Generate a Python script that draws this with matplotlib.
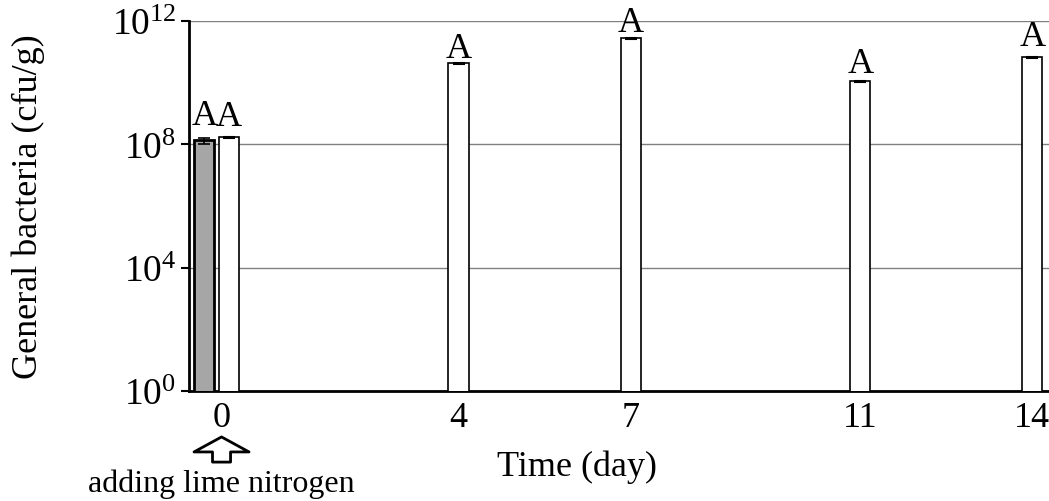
import matplotlib
matplotlib.use("Agg")
import matplotlib.pyplot as plt
from matplotlib.ticker import NullLocator, LogFormatterMathtext
import numpy as np

# Sampling days and colony counts (cfu/g)
days = [0, 4, 7, 11, 14]
day_labels = ["0", "4", "7", "11", "14"]
control_day = [0]
control_cfu = [1.35e8]
control_err = [3.0e7]
treated_cfu = [1.7e8, 4.3e10, 2.8e11, 1.1e10, 6.7e10]
treated_err = [6.0e6, 1.5e9, 1.0e10, 4.0e8, 2.5e9]
control_sig = ["A"]
treated_sig = ["A", "A", "A", "A", "A"]
ytick_vals = [1e0, 1e4, 1e8, 1e12]

# Gap (points) between each bar's error cap and its letter
control_sig_gap = [10]
treated_sig_gap = [8.5, 4.5, 4.5, 6.5, 8.5]

plt.rcParams['font.family'] = ['Liberation Serif', 'DejaVu Serif']
plt.rcParams['mathtext.fontset'] = 'custom'
plt.rcParams['mathtext.rm'] = 'Liberation Serif'
plt.rcParams['mathtext.it'] = 'Liberation Serif:italic'
plt.rcParams['mathtext.bf'] = 'Liberation Serif:bold'

fig = plt.figure(figsize=(10.49, 5.02), dpi=100)
ax = fig.add_axes([0.180, 0.219, 0.820, 0.737])
ax.set_yscale('log')

width = 0.35
offset = -0.43

ctrl_x = np.array(control_day) + offset
ax.bar(ctrl_x, control_cfu, width, yerr=control_err, color='#a6a6a6',
       edgecolor='black', linewidth=2.0, capsize=4,
       error_kw=dict(elinewidth=1.2, capthick=1.2, ecolor='black'), zorder=3)
ax.bar(days, treated_cfu, width, yerr=treated_err, color='white',
       edgecolor='black', linewidth=1.2, capsize=4,
       error_kw=dict(elinewidth=1.2, capthick=1.5, ecolor='black'), zorder=3)

for x, v, e, s, g in zip(ctrl_x, control_cfu, control_err, control_sig, control_sig_gap):
    ax.annotate(s, (x, v + e), xytext=(0, g), textcoords='offset points',
                ha='center', va='baseline', fontsize=26)
for x, v, e, s, g in zip(days, treated_cfu, treated_err, treated_sig, treated_sig_gap):
    ax.annotate(s, (x, v + e), xytext=(0, g), textcoords='offset points',
                ha='center', va='baseline', fontsize=26)

ax.set_ylim(1e0, 1e12)
ax.set_xlim(-0.70, 14.29)
ax.set_yticks(ytick_vals)
ax.yaxis.set_major_formatter(LogFormatterMathtext())
ax.yaxis.set_minor_locator(NullLocator())

# Day-0 label sits between the two day-0 bars
label_x0 = -0.13
tick_pos = [label_x0] + list(days[1:])
ax.set_xticks(tick_pos)
ax.set_xticklabels(day_labels)
ax.tick_params(axis='x', length=0, pad=7, labelsize=26)
ax.tick_params(axis='y', direction='out', length=6, width=1.5, pad=3, labelsize=27)

ax.yaxis.grid(True, color='#808080', linewidth=1.0)
ax.set_axisbelow(True)

for side in ('top', 'right'):
    ax.spines[side].set_visible(False)
ax.spines['left'].set_linewidth(2.0)
ax.spines['bottom'].set_linewidth(2.0)

ax.set_ylabel('General bacteria (cfu/g)', fontsize=26, va='center')
ax.yaxis.set_label_coords(-0.187, 0.5)
ax.set_xlabel('Time (day)', fontsize=26, va='center')
ax.xaxis.set_label_coords(0.451, -0.203)

# Hollow arrow marking when lime nitrogen was added
ax.annotate('', xy=(label_x0, -0.124), xytext=(label_x0, -0.192),
            xycoords=('data', 'axes fraction'), textcoords=('data', 'axes fraction'),
            annotation_clip=False,
            arrowprops=dict(arrowstyle='simple,head_length=10.8,head_width=39.6,tail_width=13',
                            mutation_scale=1, fc='white', ec='black', lw=2,
                            shrinkA=0, shrinkB=0))
ax.text(label_x0, -0.25, 'adding lime nitrogen', transform=ax.get_xaxis_transform(),
        ha='center', va='center', fontsize=23, clip_on=False)

fig.savefig('out.png', dpi=100)
